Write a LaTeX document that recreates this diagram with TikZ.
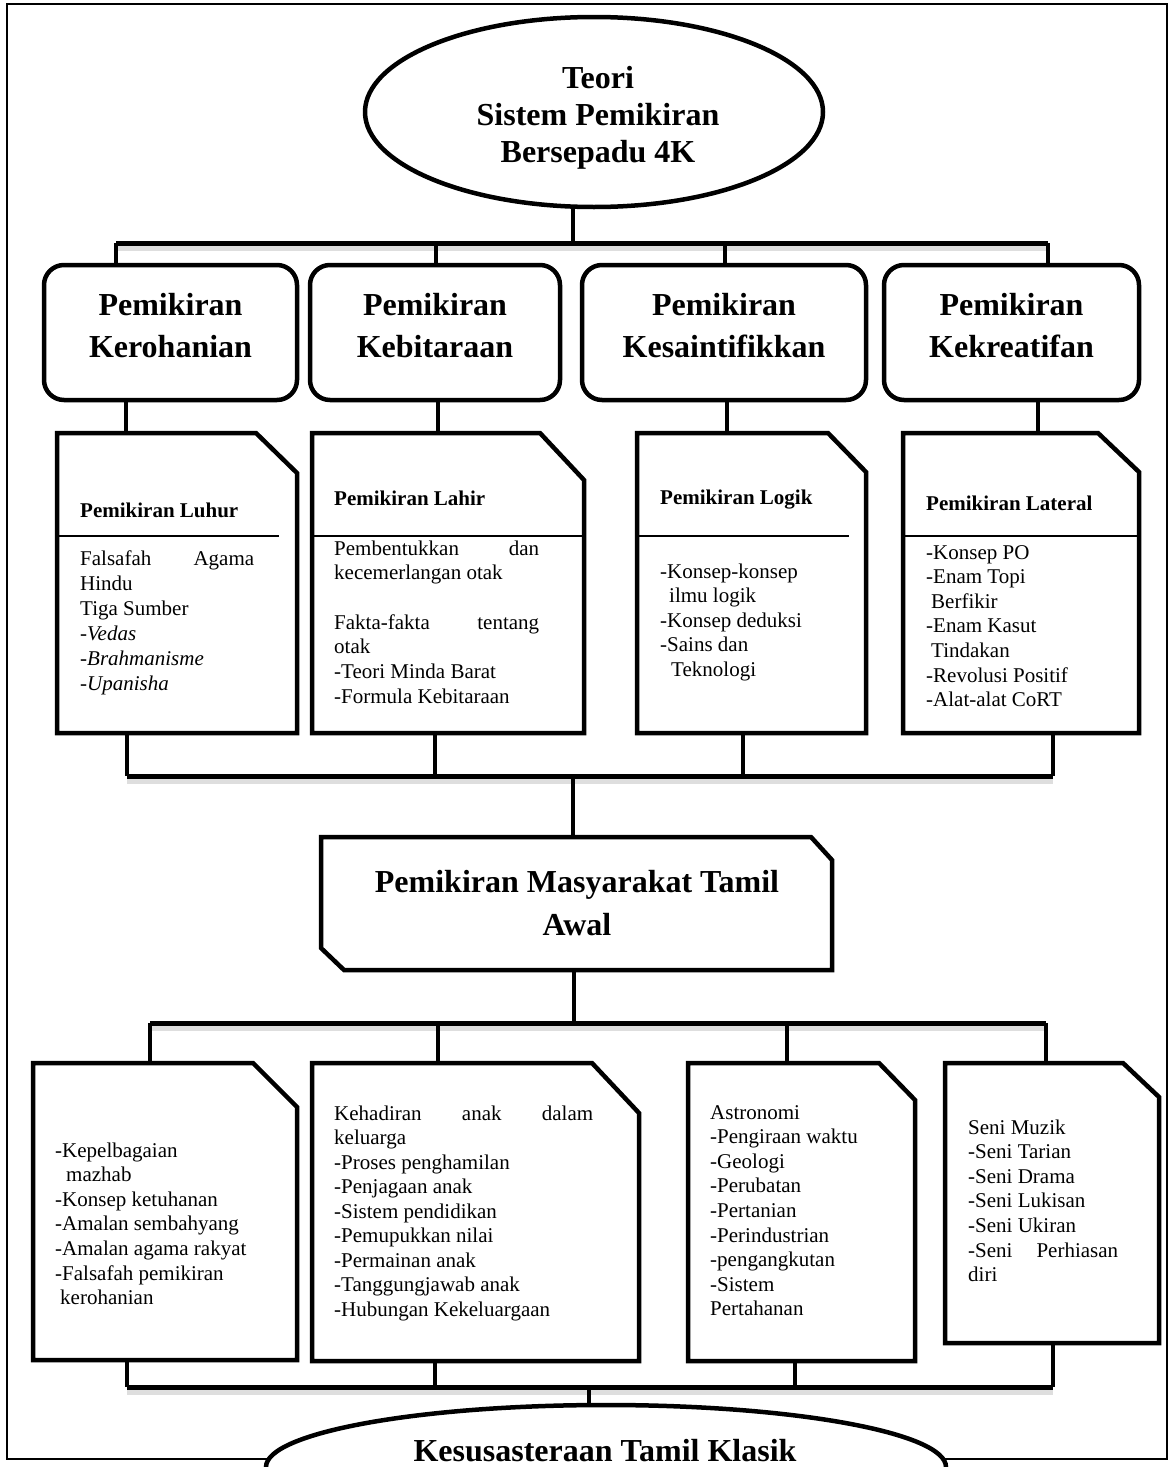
\documentclass[tikz,border=0pt]{standalone}
\usepackage{fontspec}
\setmainfont{Liberation Serif}
\usetikzlibrary{shapes.geometric,fit,calc}

\tikzset{
  frame/.style={line width=2.5pt},
  conn/.style={line width=4pt},
  bus/.style={line width=5pt},
  busshadow/.style={line width=7pt, black!13},
  rbox/.style={draw, line width=4.5pt, rounded corners=20pt, inner sep=0pt, outer sep=0pt},
  area/.style={inner sep=0pt, outer sep=0pt},
  docline/.style={line width=4.5pt, line join=miter},
  divider/.style={line width=2pt},
  oval/.style={draw, ellipse, line width=4.5pt, inner sep=0pt, outer sep=0pt, fill=white},
  title/.style={font=\fontsize{32}{42}\selectfont\bfseries, align=center, inner sep=0pt},
  head/.style={font=\fontsize{21}{25}\selectfont\bfseries, anchor=base west, inner sep=0pt},
  body/.style={font=\fontsize{21}{25}\selectfont, anchor=base west, inner sep=0pt},
}

\newcommand\txtlines[5]{%
  \foreach \itm [count=\i from 0] in {#5} {\node[body] (#1-\i) at (#2, #3+\i*#4) {\itm};}%
}
\newcommand\docpath[3]{%
  \draw[docline] (#1.north west) -- ([xshift=-#2]#1.north east) -- ([yshift=-#3]#1.north east)
    -- (#1.south east) -- (#1.south west) -- cycle;%
}

\begin{document}
\begin{tikzpicture}[x=1pt,y=-1pt]
\useasboundingbox (0,0) rectangle (1173,1467);
\clip (0,0) rectangle (1173,1467);
\fill[white] (0,0) rectangle (1173,1467);

% outer frame
\draw[frame] (7,4) rectangle (1167,1459);

% ---------- top ellipse ----------
\node[oval, minimum width=458pt, minimum height=190pt] (top) at (594,112) {};
\node[title, font=\fontsize{32}{37}\selectfont\bfseries] (toptxt) at (598,118) {Teori\\Sistem Pemikiran\\Bersepadu 4K};

% ---------- rounded boxes ----------
\node[rbox, fit={(44,265) (297,400)}] (r1) {};
\node[rbox, fit={(310,265) (560,400)}] (r2) {};
\node[rbox, fit={(582,265) (866,400)}] (r3) {};
\node[rbox, fit={(884,265) (1139,400)}] (r4) {};
\node[title] (r1t) at (170.5,326) {Pemikiran\\Kerohanian};
\node[title] (r2t) at (435,326) {Pemikiran\\Kebitaraan};
\node[title] (r3t) at (724,326) {Pemikiran\\Kesaintifikkan};
\node[title] (r4t) at (1011.5,326) {Pemikiran\\Kekreatifan};

% bus 1
\coordinate (b1L) at (116,243); \coordinate (b1R) at (1048,243);
\coordinate (b1M) at (573,243);
\coordinate (b1x2) at (436,243); \coordinate (b1x3) at (725,243);
\draw[conn] (b1M |- top.south) -- (b1M);
\draw[busshadow] ([yshift=-4pt]b1L) -- ([yshift=-4pt]b1R);
\draw[bus] (b1L) -- (b1R);
\draw[conn] (b1L) -- (b1L |- r1.north);
\draw[conn] (b1x2) -- (b1x2 |- r2.north);
\draw[conn] (b1x3) -- (b1x3 |- r3.north);
\draw[conn] (b1R) -- (b1R |- r4.north);

% ---------- first row document boxes ----------
\node[area, fit={(57,433) (297,733)}] (d1) {};
\node[area, fit={(312,433) (584,733)}] (d2) {};
\node[area, fit={(637,433) (866,733)}] (d3) {};
\node[area, fit={(903,433) (1139,733)}] (d4) {};
\docpath{d1}{41pt}{40pt}
\docpath{d2}{44pt}{47pt}
\docpath{d3}{38pt}{39pt}
\docpath{d4}{41pt}{39pt}

\coordinate (v1) at (126,0); \coordinate (v2) at (438,0);
\coordinate (v3) at (727,0); \coordinate (v4) at (1038,0);
\draw[conn] (r1.south -| v1) -- (d1.north -| v1);
\draw[conn] (r2.south -| v2) -- (d2.north -| v2);
\draw[conn] (r3.south -| v3) -- (d3.north -| v3);
\draw[conn] (r4.south -| v4) -- (d4.north -| v4);

% dividers
\coordinate (dv1) at (279,536); \coordinate (dv3) at (849,536);
\draw[divider] (d1.west |- dv1) -- (dv1);
\draw[divider] (d2.west |- dv1) -- (d2.east |- dv1);
\draw[divider] (d3.west |- dv3) -- (dv3);
\draw[divider] (d4.west |- dv1) -- (d4.east |- dv1);

% headers
\node[head] (d1h) at (80,517) {Pemikiran Luhur};
\node[head] (d2h) at (334,505) {Pemikiran Lahir};
\node[head] (d3h) at (660,504) {Pemikiran Logik};
\node[head] (d4h) at (926,510) {Pemikiran Lateral};

% body texts
\txtlines{d1t}{80}{565}{25}{{\makebox[174pt][s]{Falsafah Agama}},Hindu,Tiga Sumber,{-\textit{Vedas}},{-\textit{Brahmanisme}},{-\textit{Upanisha}}}
\txtlines{d2t}{334}{555}{24.7}{{\makebox[205pt][s]{Pembentukkan dan}},kecemerlangan otak,{},{\makebox[205pt][s]{Fakta-fakta tentang}},otak,-Teori Minda Barat,-Formula Kebitaraan}
\txtlines{d3t}{660}{578}{24.5}{-Konsep-konsep,{\hspace*{9pt}ilmu logik},-Konsep deduksi,-Sains dan,{\hspace*{11pt}Teknologi}}
\txtlines{d4t}{926}{559}{24.6}{-Konsep PO,-Enam Topi,{\hspace*{5pt}Berfikir},-Enam Kasut,{\hspace*{5pt}Tindakan},-Revolusi Positif,-Alat-alat CoRT}

% bus 2
\coordinate (b2L) at (127,776); \coordinate (b2R) at (1053,776);
\coordinate (b2x2) at (435,776); \coordinate (b2x3) at (743,776);
\coordinate (b2M) at (573,776);
\draw[conn] (b2L |- d1.south) -- (b2L);
\draw[conn] (b2x2 |- d2.south) -- (b2x2);
\draw[conn] (b2x3 |- d3.south) -- (b2x3);
\draw[conn] (b2R |- d4.south) -- (b2R);
\draw[busshadow] ([yshift=-4pt]b2L) -- ([yshift=-4pt]b2R);
\draw[bus] (b2L) -- (b2R);

% ---------- middle box ----------
\node[area, fit={(321,837) (832,970)}] (m) {};
\draw[docline] (m.north west) -- ([xshift=-21pt]m.north east) -- ([yshift=-23pt]m.north east)
  -- (m.south east) -- ([xshift=23pt]m.south west) -- ([yshift=22pt]m.south west) -- cycle;
\node[title, font=\fontsize{32}{43}\selectfont\bfseries] (mt) at (577,903.5) {Pemikiran Masyarakat Tamil\\Awal};
\draw[conn] (b2M) -- (b2M |- m.north);

% bus 3
\coordinate (b3L) at (150,1023); \coordinate (b3R) at (1046,1023);
\coordinate (b3M) at (574,1023);
\coordinate (b3x2) at (438,1023); \coordinate (b3x3) at (787,1023);
\draw[conn] (b3M |- m.south) -- (b3M);
\draw[busshadow] ([yshift=-4pt]b3L) -- ([yshift=-4pt]b3R);
\draw[bus] (b3L) -- (b3R);

% ---------- second row document boxes ----------
\node[area, fit={(33,1063) (297,1360)}] (eA) {};
\node[area, fit={(312,1063) (639,1361)}] (eB) {};
\node[area, fit={(688,1063) (915,1361)}] (eC) {};
\node[area, fit={(945,1063) (1159,1343)}] (eD) {};
\docpath{eA}{44pt}{44pt}
\docpath{eB}{47pt}{50pt}
\docpath{eC}{36pt}{37pt}
\docpath{eD}{36pt}{34pt}
\draw[conn] (b3L) -- (b3L |- eA.north);
\draw[conn] (b3x2) -- (b3x2 |- eB.north);
\draw[conn] (b3x3) -- (b3x3 |- eC.north);
\draw[conn] (b3R) -- (b3R |- eD.north);

\txtlines{eAt}{55}{1157}{24.6}{-Kepelbagaian,{\hspace*{11pt}mazhab},-Konsep ketuhanan,-Amalan sembahyang,-Amalan agama rakyat,-Falsafah pemikiran,{\hspace*{5pt}kerohanian}}
\txtlines{eBt}{334}{1120}{24.5}{{\makebox[259pt][s]{Kehadiran anak dalam}},keluarga,-Proses penghamilan,-Penjagaan anak,-Sistem pendidikan,-Pemupukkan nilai,-Permainan anak,-Tanggungjawab anak,-Hubungan Kekeluargaan}
\txtlines{eCt}{710}{1119}{24.6}{Astronomi,-Pengiraan waktu,-Geologi,-Perubatan,-Pertanian,-Perindustrian,-pengangkutan,-Sistem,Pertahanan}
\txtlines{eDt}{968}{1134}{24.6}{Seni Muzik,-Seni Tarian,-Seni Drama,-Seni Lukisan,-Seni Ukiran,{\makebox[150pt][s]{-Seni Perhiasan}},diri}

% bus 4
\coordinate (b4L) at (127,1387); \coordinate (b4R) at (1053,1387);
\coordinate (b4x2) at (435,1387); \coordinate (b4x3) at (795,1387);
\coordinate (b4M) at (589,1387);
\draw[conn] (b4L |- eA.south) -- (b4L);
\draw[conn] (b4x2 |- eB.south) -- (b4x2);
\draw[conn] (b4x3 |- eC.south) -- (b4x3);
\draw[conn] (b4R |- eD.south) -- (b4R);
\draw[busshadow] ([yshift=-4pt]b4L) -- ([yshift=-4pt]b4R);
\draw[bus] (b4L) -- (b4R);

% ---------- bottom ellipse ----------
\node[oval, minimum width=680pt, minimum height=124pt] (bot) at (606,1467) {};
\draw[conn] (b4M) -- (b4M |- bot.north);
\node[title, anchor=base] (bott) at (605,1461) {Kesusasteraan Tamil Klasik};
\end{tikzpicture}
\end{document}
